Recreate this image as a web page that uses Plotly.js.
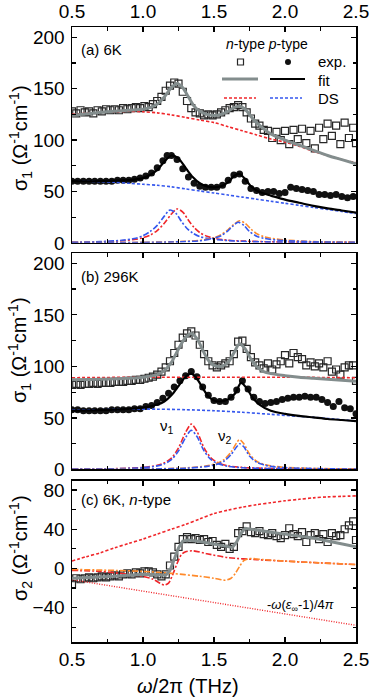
<!DOCTYPE html>
<html>
<head>
<meta charset="utf-8">
<script src="https://cdn.plot.ly/plotly-3.0.1.min.js"></script>
<style>
  html, body { margin: 0; padding: 0; background: #fff; }
  #chart { width: 370px; height: 699px; }
</style>
</head>
<body>
<div id="chart"></div>
<script>
// ---------- panel (a) 6K ----------
const aNExpX = [0.50,0.53,0.56,0.59,0.62,0.65,0.68,0.71,0.74,0.77,0.80,0.83,0.86,0.89,0.92,0.95,0.98,1.01,1.04,1.07,1.10,1.13,1.16,1.19,1.22,1.25,1.28,1.31,1.34,1.37,1.40,1.43,1.46,1.49,1.52,1.55,1.58,1.61,1.64,1.67,1.70,1.73,1.76,1.79,1.82,1.85,1.88,1.91,1.94,1.97,2.00,2.03,2.06,2.09,2.12,2.15,2.18,2.21,2.24,2.27,2.30,2.33,2.36,2.39,2.42,2.45,2.48,2.50];
const aNExpY = [128,126,129,127,128,126,129,128,130,129,130,129,131,130,131,132,131,133,132,135,138,142,148,153,156,155,147,138,131,127,126,124,125,124,125,127,129,131,132,134,132,127,121,116,114,110,109,102,108,100,109,96,110,101,111,97,109,92,112,101,116,104,114,96,117,102,112,97];
const aNFitX = [0.5,0.6,0.7,0.8,0.9,1.0,1.05,1.1,1.15,1.2,1.24,1.28,1.32,1.36,1.4,1.45,1.5,1.55,1.6,1.64,1.68,1.72,1.76,1.8,1.85,1.9,2.0,2.1,2.2,2.3,2.4,2.5];
const aNFitY = [124,125.5,127,128,129,130,131.5,135,142,151,155,151,142,133,128,125,124,125,128,131.5,133,130,123,117,111,106,100,95,90,85,81,77];
const aNDsX = [0.5,0.6,0.7,0.8,0.9,1.0,1.1,1.2,1.3,1.4,1.5,1.6,1.7,1.8,1.9,2.0,2.1,2.2,2.3,2.4,2.5];
const aNDsY = [125,126,127,127.5,128,127.5,126.5,124.5,122,119.5,117,113,109,105,101,98,94,89,85,81,78];

const aPExpX = [0.50,0.54,0.58,0.62,0.66,0.70,0.74,0.78,0.82,0.86,0.90,0.94,0.98,1.02,1.06,1.10,1.14,1.17,1.20,1.24,1.28,1.32,1.36,1.40,1.44,1.48,1.52,1.56,1.60,1.64,1.68,1.72,1.76,1.80,1.84,1.88,1.92,1.96,2.00,2.04,2.08,2.12,2.16,2.20,2.24,2.28,2.32,2.36,2.40,2.44,2.48];
const aPExpY = [60,60,60,60,60,60,60,60,61,61,61,62,63,65,68,73,80,85,85,81,72,64,58,55,54,54,54,56,61,66,67,60,53,51,49,50,50,48,49,54,53,52,51,50,47,47,46,47,45,44,45];
const aPFitX = [0.5,0.7,0.9,1.0,1.05,1.1,1.15,1.2,1.25,1.3,1.35,1.4,1.45,1.5,1.55,1.6,1.64,1.68,1.72,1.76,1.8,1.85,1.9,2.0,2.1,2.2,2.3,2.4,2.5];
const aPFitY = [60,60,61,63,66,71,79,85,82,73,64,58,55,54,55,59,65,67,62,55,51,48,46,42,39,36,33.5,31.5,29.5];
const aPDsX = [0.5,0.6,0.7,0.8,0.9,1.0,1.1,1.2,1.3,1.4,1.5,1.6,1.7,1.8,1.9,2.0,2.1,2.2,2.3,2.4,2.5];
const aPDsY = [60,60,59.5,59,58,57,56,54.5,52.5,50.5,48.5,46.5,44.5,42.5,40.5,38.5,36.5,34.5,32.5,30.5,28.5];

const aNOsc1X = [0.5,0.7,0.85,0.95,1.0,1.05,1.1,1.15,1.2,1.24,1.28,1.32,1.36,1.4,1.45,1.5,1.6,1.7,1.9,2.2,2.5];
const aNOsc1Y = [0.5,1,2,3.5,5,7.5,12,19,28,33,30,22,15,10,6.5,4.5,2.5,1.8,1,0.6,0.4];
const aPOsc1X = [0.5,0.7,0.85,0.95,1.0,1.05,1.1,1.15,1.19,1.23,1.27,1.31,1.35,1.4,1.45,1.5,1.6,1.7,1.9,2.2,2.5];
const aPOsc1Y = [0.5,1.2,2.5,4.5,7,11,17,26,32,29,21,14,9.5,6,4.5,3.5,2.2,1.5,0.9,0.5,0.3];
const aNOsc2X = [0.5,1.0,1.2,1.3,1.4,1.45,1.5,1.55,1.6,1.64,1.68,1.72,1.76,1.8,1.85,1.9,2.0,2.2,2.5];
const aNOsc2Y = [0.2,0.5,1,1.5,2.5,3.5,5,8,13,18,21.5,19,13.5,9,6,4.5,2.8,1.3,0.6];
const aPOsc2X = [0.5,1.0,1.2,1.3,1.4,1.45,1.5,1.55,1.6,1.63,1.67,1.71,1.75,1.8,1.85,1.9,2.0,2.2,2.5];
const aPOsc2Y = [0.2,0.4,0.8,1.3,2,3,4.5,7,12,16,20,17,11,6.5,4.5,3.3,2.2,1,0.5];

// ---------- panel (b) 296K ----------
const bNExpX = aNExpX;
const bNExpY = [82,83,82,83,83,84,83,84,84,84,85,85,85,86,86,87,87,88,89,90,92,95,99,105,113,121,128,132,134,130,121,112,105,101,99,101,103,105,112,124,125,117,109,104,101,98,103,97,102,105,111,103,113,109,107,101,104,100,103,99,105,95,97,92,99,101,101,86];
const bNFitX = [0.5,0.7,0.9,1.0,1.1,1.15,1.2,1.25,1.3,1.34,1.38,1.42,1.46,1.5,1.55,1.6,1.64,1.68,1.72,1.76,1.8,1.85,1.9,2.0,2.1,2.2,2.3,2.4,2.5];
const bNFitY = [87,87.5,88.5,89.5,92,96,104,117,128,132,127,116,106,101,100,104,113,122,117,107,100,95,93,91,89.5,88.5,87.5,86.5,85.5];
const bNDsX = [0.5,1.0,1.5,2.0,2.5];
const bNDsY = [89,89.5,89.5,89.5,89];

const bPExpX = [0.50,0.54,0.58,0.62,0.66,0.70,0.74,0.78,0.82,0.86,0.90,0.94,0.98,1.02,1.06,1.10,1.14,1.18,1.22,1.26,1.30,1.34,1.38,1.42,1.46,1.50,1.54,1.58,1.62,1.66,1.70,1.74,1.78,1.82,1.86,1.90,1.94,1.98,2.02,2.06,2.10,2.14,2.18,2.22,2.26,2.30,2.34,2.38,2.42,2.46,2.50];
const bPExpY = [58,58,57,57,57,57,57,58,58,58,58,59,59,61,62,65,69,74,80,86,91,95,90,80,72,67,66,66,70,77,86,78,70,66,64,65,66,68,69,70,70,71,70,70,68,65,61,66,60,59,54];
const bPFitX = [0.5,0.8,1.0,1.1,1.15,1.2,1.25,1.3,1.34,1.38,1.42,1.46,1.5,1.55,1.6,1.65,1.69,1.73,1.77,1.82,1.9,2.0,2.1,2.2,2.3,2.4,2.5];
const bPFitY = [57,58,60,63,66,72,81,90,93,88,79,71,67,66,68,74,84,79,70,63,57,54,52,50.5,49,48,47];
const bPDsX = [0.5,0.7,0.9,1.1,1.3,1.5,1.7,1.9,2.1,2.3,2.5];
const bPDsY = [57.5,58,58.5,58.5,58,57,55.5,53.5,51.5,49.5,47];

const bOsc1X = [0.5,0.8,1.0,1.1,1.15,1.2,1.25,1.3,1.34,1.38,1.43,1.48,1.53,1.6,1.7,1.9,2.2,2.5];
const bNOsc1Y = [0.3,0.8,2,4,6.5,11,21,36,44,37,21,11,6.5,3.5,2,1,0.5,0.3];
const bPOsc1Y = [0.3,0.7,1.8,3.5,5.5,9.5,18,31,38,32,18,9.5,5.5,3,1.7,0.9,0.5,0.3];
const bOsc2X = [0.5,1.0,1.3,1.45,1.52,1.57,1.62,1.66,1.68,1.71,1.75,1.8,1.85,1.9,2.0,2.2,2.5];
const bNOsc2Y = [0.2,0.5,1.5,3.5,6,9.5,17,26,29,25,15,8,5,3.5,2,1,0.5];
const bPOsc2Y = [0.2,0.4,1.2,3,5,8,14.5,22,25,22,13,7,4.5,3,1.8,0.9,0.4];

// ---------- panel (c) 6K, n-type, sigma2 ----------
const cExpX = aNExpX;
const cExpY = [-16,-10,-11,-10,-9,-10,-9,-8,-9,-8,-7,-8,-6,-5,-6,-4,-5,-3,-3,-4,-6,-8,-6,3,12,22,30,32,30,31,29,30,27,28,24,22,25,20,22,36,38,43,37,36,38,35,34,36,33,31,34,41,35,33,37,27,34,36,30,35,27,36,33,34,40,44,48,29];
const cFitX = [0.5,0.6,0.7,0.8,0.9,1.0,1.1,1.16,1.19,1.22,1.25,1.28,1.32,1.4,1.5,1.6,1.63,1.66,1.69,1.72,1.76,1.9,2.0,2.1,2.2,2.3,2.4,2.5];
const cFitY = [-10,-9.5,-9,-8,-7,-6,-6.5,-7,-2,9,21,28,29,27.5,25,22,21.5,27,36,41,40,37,35,33,31,28,25,22];
const cDsX = [0.5,0.6,0.7,0.8,0.9,1.0,1.1,1.2,1.3,1.4,1.5,1.6,1.7,1.8,1.9,2.0,2.1,2.2,2.3,2.4,2.5];
const cDsY = [7.5,12,16,21,25.5,30,35,40,45,50.5,56,59.5,62.5,65,67,69,70.5,72,73,73.5,74];
const cEpsX = [0.5,2.5];
const cEpsY = [-11.5,-58];
const cOsc1X = [0.5,0.7,0.9,1.0,1.07,1.12,1.15,1.18,1.21,1.24,1.27,1.3,1.35,1.45,1.6,1.8,2.0,2.2,2.5];
const cOsc1Y = [-2,-3,-6,-8,-11,-15,-17,-15,-6,5,14,17,18,15,11,9,7.5,6,4];
const cOsc2X = [0.5,0.8,1.0,1.2,1.4,1.5,1.58,1.62,1.65,1.68,1.71,1.75,1.85,2.0,2.2,2.5];
const cOsc2Y = [-1,-2,-3,-5,-8,-10,-12,-10,-5,2,8,10,9,7.5,6,4];

const xTicks = [0.5,1.0,1.5,2.0,2.5];

// ---------- styling ----------
const fontFam = "Liberation Sans, Arial, sans-serif";
const nFitColor = "#838d8d";
const red = "#f0262a";
const blue = "#3557ee";
const orange = "#ff8a2a";

const M = { l: 72, r: 14, t: 27, b: 57 };
const plotW = 370 - M.l - M.r;
const plotH = 699 - M.t - M.b;
const px = (x) => (x - M.l) / plotW;
const py = (y) => (699 - M.b - y) / plotH;

function markers(x, y, ax, symbol, size) {
  return {
    x, y, xaxis: ax[0], yaxis: ax[1],
    type: "scatter", mode: "markers", hoverinfo: "skip",
    marker: symbol === "open"
      ? { symbol: "square-open", size: size, color: "#262626", line: { width: 1.2, color: "#262626" } }
      : { symbol: "circle", size: size, color: "#111" },
  };
}

function line(x, y, ax, color, width, dash, shape) {
  return {
    x, y, xaxis: ax[0], yaxis: ax[1],
    type: "scatter", mode: "lines", hoverinfo: "skip",
    line: { color, width, dash: dash || "solid", shape: shape || "spline", smoothing: 0.8 },
  };
}

const A = ["x3", "y"];
const B = ["x2", "y2"];
const C = ["x", "y3"];

const traces = [
  // (a)
  markers(aNExpX, aNExpY, A, "open", 7),
  markers(aPExpX, aPExpY, A, "dot", 7),
  line(aNDsX, aNDsY, A, red, 1.6, "3px,2px"),
  line(aPDsX, aPDsY, A, blue, 1.6, "3px,2px"),
  line(aNFitX, aNFitY, A, nFitColor, 3),
  line(aPFitX, aPFitY, A, "#000", 2.2),
  line(aNOsc1X, aNOsc1Y, A, red, 1.6, "6px,2px,2px,2px"),
  line(aPOsc1X, aPOsc1Y, A, blue, 1.6, "6px,2px,2px,2px"),
  line(aNOsc2X, aNOsc2Y, A, orange, 1.6, "6px,2px,2px,2px"),
  line(aPOsc2X, aPOsc2Y, A, blue, 1.6, "6px,2px,2px,2px"),
  // (b)
  markers(bNExpX, bNExpY, B, "open", 7),
  markers(bPExpX, bPExpY, B, "dot", 7),
  line(bNDsX, bNDsY, B, red, 1.6, "3px,2px"),
  line(bPDsX, bPDsY, B, blue, 1.6, "3px,2px"),
  line(bNFitX, bNFitY, B, nFitColor, 3),
  line(bPFitX, bPFitY, B, "#000", 2.2),
  line(bOsc1X, bNOsc1Y, B, red, 1.6, "6px,2px,2px,2px"),
  line(bOsc1X, bPOsc1Y, B, blue, 1.6, "6px,2px,2px,2px"),
  line(bOsc2X, bNOsc2Y, B, orange, 1.6, "6px,2px,2px,2px"),
  line(bOsc2X, bPOsc2Y, B, blue, 1.6, "6px,2px,2px,2px"),
  // (c)
  markers(cExpX, cExpY, C, "open", 7),
  line(cDsX, cDsY, C, red, 1.6, "3px,2px"),
  line(cEpsX, cEpsY, C, red, 1.4, "1px,1.5px", "linear"),
  line(cOsc1X, cOsc1Y, C, red, 1.6, "6px,2px,2px,2px"),
  line(cOsc2X, cOsc2Y, C, orange, 1.6, "6px,2px,2px,2px"),
  line(cFitX, cFitY, C, nFitColor, 3, "solid", "linear"),
];

const tickFont = { family: fontFam, size: 19, color: "#000" };

function xAxis(anchor, opts) {
  return {
    anchor, range: [0.5, 2.5], tickvals: xTicks, ticktext: xTicks.map((v) => v.toFixed(1)),
    ticks: "inside", ticklen: 5, tickwidth: 1.2, tickcolor: "#000",
    minor: { ticks: "inside", tickvals: [0.75, 1.25, 1.75, 2.25], ticklen: 3.5, tickcolor: "#000", tickwidth: 1.2 },
    showline: true, linecolor: "#000", linewidth: 1.5, mirror: "allticks",
    showgrid: false, zeroline: false, tickfont: tickFont, ...opts,
  };
}

function yAxis(domain, range, dtick, anchor) {
  return {
    anchor, domain, range, tick0: 0, dtick,
    ticks: "inside", ticklen: 5, tickwidth: 1.2, tickcolor: "#000",
    minor: { ticks: "inside", dtick: dtick / 2, ticklen: 3.5, tickcolor: "#000", tickwidth: 1.2 },
    showline: true, linecolor: "#000", linewidth: 1.5, mirror: "allticks",
    showgrid: false, zeroline: false, tickfont: tickFont, ticklabelstandoff: 2,
  };
}

function note(x, y, text, size, opts) {
  return {
    xref: "paper", yref: "paper", x: px(x), y: py(y), text, showarrow: false,
    xanchor: "center", yanchor: "middle",
    font: { family: fontFam, size, color: "#000" }, ...opts,
  };
}

const yTitle = "σ<sub>1</sub> (Ω<sup>-1</sup>cm<sup>-1</sup>)";
const annotations = [
  note(79, 50, "(a) 6K", 15, { xanchor: "left" }),
  note(79, 276, "(b) 296K", 15, { xanchor: "left" }),
  note(79, 500, "(c) 6K, <i>n</i>-type", 15, { xanchor: "left" }),
  note(267, 44, "<i>n</i>-type <i>p</i>-type", 14),
  note(316, 62, "exp.", 15, { xanchor: "left" }),
  note(316, 80, "fit", 15, { xanchor: "left" }),
  note(316, 98, "DS", 15, { xanchor: "left" }),
  note(167, 426, "ν<sub>1</sub>", 15),
  note(225, 436, "ν<sub>2</sub>", 15),
  note(300, 605, "-<i>ω</i>(<i>ε</i><sub>∞</sub>-1)/4<i>π</i>", 13),
  note(20, 138, yTitle, 20, { textangle: -90 }),
  note(20, 350, yTitle, 20, { textangle: -90 }),
  note(20, 548, "σ<sub>2</sub> (Ω<sup>-1</sup>cm<sup>-1</sup>)", 20, { textangle: -90 }),
  note(188, 686, "<i>ω</i>/2π (THz)", 20),
];

function seg(x0, x1, y, color, width, dash) {
  return {
    type: "line", xref: "paper", yref: "paper",
    x0: px(x0), x1: px(x1), y0: py(y), y1: py(y),
    line: { color, width, dash },
  };
}

const shapes = [
  { type: "rect", xref: "paper", yref: "paper", x0: px(237.5), x1: px(243.5), y0: py(65), y1: py(59), line: { color: "#262626", width: 1.2 } },
  { type: "circle", xref: "paper", yref: "paper", x0: px(285), x1: px(291), y0: py(65), y1: py(59), fillcolor: "#111", line: { color: "#111", width: 0 } },
  seg(222, 258, 79, nFitColor, 3, "solid"),
  seg(270, 305, 79, "#000", 2.2, "solid"),
  seg(224, 256, 98, red, 1.6, "3px,2px"),
  seg(270, 302, 98, blue, 1.6, "3px,2px"),
];

const layout = {
  width: 370, height: 699,
  margin: M,
  paper_bgcolor: "#fff", plot_bgcolor: "#fff",
  showlegend: false,
  font: { family: fontFam, color: "#000" },
  xaxis: xAxis("y3", {}),
  xaxis2: xAxis("y2", { showticklabels: false }),
  xaxis3: xAxis("y", { side: "top" }),
  yaxis: yAxis([0.649, 1.0], [0, 210], 50, "x3"),
  yaxis2: yAxis([0.2805, 0.6325], [0, 210], 50, "x2"),
  yaxis3: yAxis([0, 0.2623], [-75, 89.5], 40, "x"),
  annotations,
  shapes,
};

Plotly.newPlot("chart", traces, layout, { staticPlot: true, displayModeBar: false });
</script>
</body>
</html>
